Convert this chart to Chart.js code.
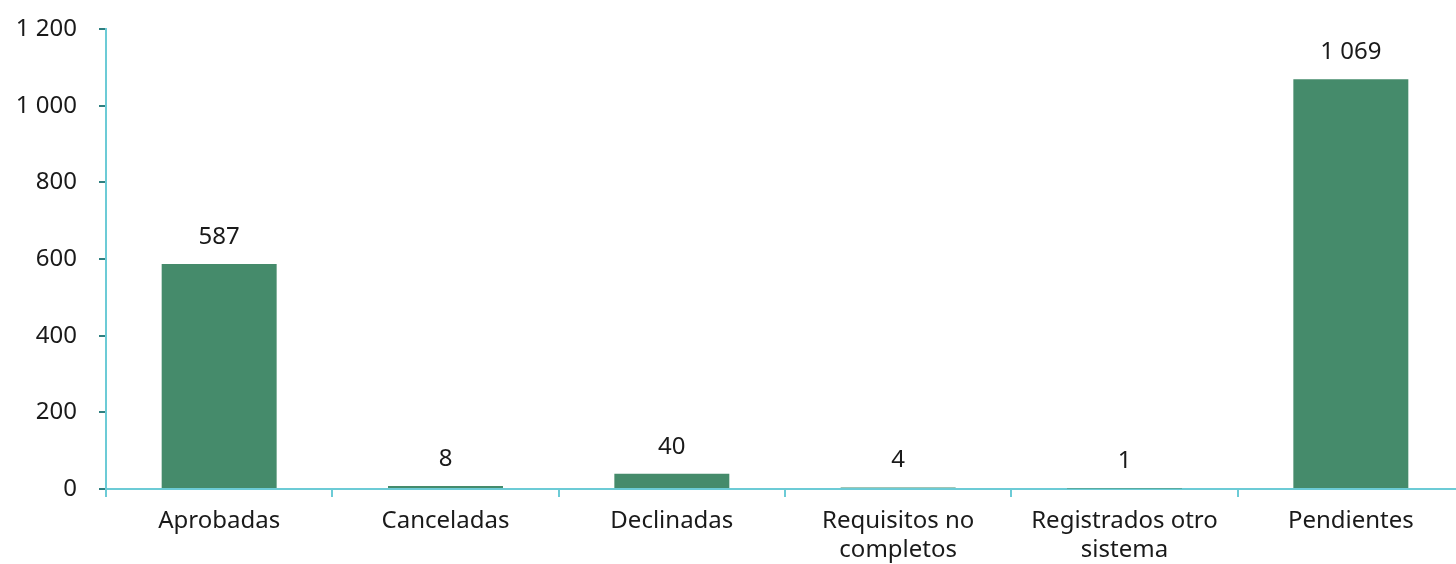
<!DOCTYPE html>
<html>
<head>
<meta charset="utf-8">
<script src="https://cdn.jsdelivr.net/npm/chart.js@4/dist/chart.umd.min.js"></script>
<style>
  html, body { margin: 0; padding: 0; background: #fff; overflow: hidden; }
  /* el área del gráfico sigue un poco más allá del borde derecho */
  #wrap { width: 1464px; height: 564px; }
</style>
</head>
<body>
<div id="wrap"><canvas id="chart"></canvas></div>
<script>
// datos
const categorias = ['Aprobadas', 'Canceladas', 'Declinadas', ['Requisitos no', 'completos'], ['Registrados otro', 'sistema'], 'Pendientes'];
const valores = [587, 8, 40, 4, 1, 1069];
const yMax = 1200;
const yPaso = 200;

const verde = '#458b6b';
const tealClaro = '#6ccbd6';
const tealOscuro = '#2f7f80';
const texto = '#1a1a1a';

// formato con espacio como separador de miles
const fmt = v => String(v).replace(/\B(?=(\d{3})+(?!\d))/g, ' ');

// etiquetas encima de las barras
const etiquetas = {
    id: 'etiquetas',
    afterDatasetsDraw(chart) {
        const ctx = chart.ctx;
        const meta = chart.getDatasetMeta(0);
        ctx.save();
        ctx.font = '24px "Noto Sans"';
        ctx.fillStyle = texto;
        ctx.textAlign = 'center';
        ctx.textBaseline = 'middle';
        meta.data.forEach((bar, i) => {
            ctx.fillText(fmt(valores[i]), bar.x, bar.y - 27);
        });
        ctx.restore();
    }
};

new Chart(document.getElementById('chart'), {
    type: 'bar',
    data: {
        labels: categorias,
        datasets: [{
            data: valores,
            backgroundColor: verde,
            categoryPercentage: 1,
            barPercentage: 0.508
        }]
    },
    options: {
        responsive: true,
        maintainAspectRatio: false,
        animation: false,
        layout: { padding: 0 },
        plugins: {
            legend: { display: false },
            tooltip: { enabled: false }
        },
        scales: {
            x: {
                afterFit(scale) { scale.height = 75; },
                border: { color: tealClaro, width: 2 },
                grid: {
                    offset: true,
                    drawOnChartArea: false,
                    color: tealClaro,
                    lineWidth: 2,
                    tickLength: 8
                },
                ticks: {
                    color: texto,
                    font: { family: 'Noto Sans', size: 24, lineHeight: 1.2 },
                    padding: 10,
                    maxRotation: 0,
                    autoSkip: false
                }
            },
            y: {
                min: 0,
                max: yMax,
                afterFit(scale) {
                    scale.width = 106;
                    scale.paddingTop = 29;
                },
                border: { color: tealClaro, width: 2 },
                grid: {
                    drawOnChartArea: false,
                    color: tealOscuro,
                    lineWidth: 2,
                    tickLength: 7
                },
                ticks: {
                    stepSize: yPaso,
                    color: texto,
                    font: { family: 'Noto Sans', size: 24 },
                    padding: 22,
                    callback: v => fmt(v)
                }
            }
        }
    },
    plugins: [etiquetas]
});
</script>
</body>
</html>
